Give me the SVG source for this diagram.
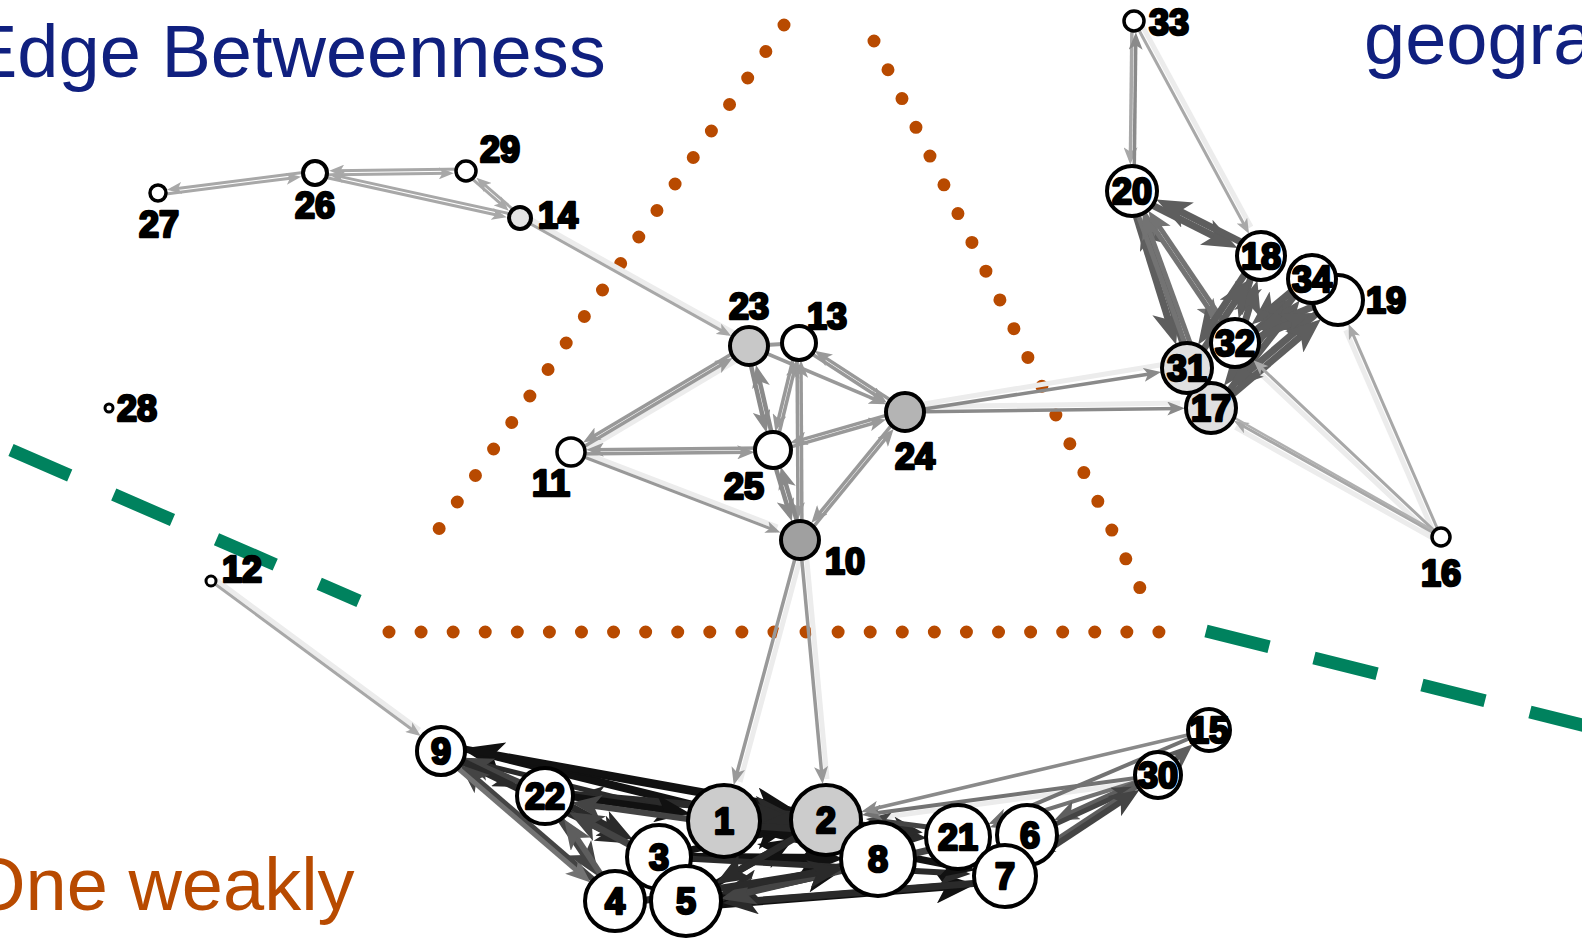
<svg xmlns="http://www.w3.org/2000/svg" width="1582" height="938" viewBox="0 0 1582 938">
<style>
.t{font-family:"Liberation Sans",Arial,sans-serif;font-size:74px}
.lb{font-family:"Liberation Sans",Arial,sans-serif;font-weight:bold;font-size:36px;fill:#000;stroke:#000;stroke-width:2.6;stroke-linejoin:round;text-anchor:middle}
.n{stroke:#000}
.h{stroke:#ececec;stroke-width:5;fill:none}
line{fill:none;stroke-linecap:butt}
.e0{stroke:#999999}
.e1{stroke:#a8a8a8;marker-end:url(#m1)}
.e2{stroke:#999999;marker-end:url(#m2)}
.e3{stroke:#8a8a8a;marker-end:url(#m3)}
.e4{stroke:#737373;marker-end:url(#m4)}
.e5{stroke:#5e5e5e;marker-end:url(#m5)}
.e6{stroke:#444444;marker-end:url(#m6)}
.e7{stroke:#2a2a2a;marker-end:url(#m7)}
.e8{stroke:#111111;marker-end:url(#m8)}
.dot{stroke:#b84a00;stroke-width:13;stroke-linecap:round;fill:none}
.dash{stroke:#00825e;stroke-width:13;fill:none}
</style>
<defs>
<marker id="m1" viewBox="0 0 10 8" refX="7" refY="4" markerWidth="5" markerHeight="4" orient="auto" markerUnits="strokeWidth"><path d="M0,0 L10,4 L0,8 L2.5,4 z" fill="#a8a8a8"/></marker>
<marker id="m2" viewBox="0 0 10 8" refX="7" refY="4" markerWidth="5" markerHeight="4" orient="auto" markerUnits="strokeWidth"><path d="M0,0 L10,4 L0,8 L2.5,4 z" fill="#999999"/></marker>
<marker id="m3" viewBox="0 0 10 8" refX="7" refY="4" markerWidth="5" markerHeight="4" orient="auto" markerUnits="strokeWidth"><path d="M0,0 L10,4 L0,8 L2.5,4 z" fill="#8a8a8a"/></marker>
<marker id="m4" viewBox="0 0 10 8" refX="7" refY="4" markerWidth="5" markerHeight="4" orient="auto" markerUnits="strokeWidth"><path d="M0,0 L10,4 L0,8 L2.5,4 z" fill="#737373"/></marker>
<marker id="m5" viewBox="0 0 10 8" refX="7" refY="4" markerWidth="5" markerHeight="4" orient="auto" markerUnits="strokeWidth"><path d="M0,0 L10,4 L0,8 L2.5,4 z" fill="#5e5e5e"/></marker>
<marker id="m6" viewBox="0 0 10 8" refX="7" refY="4" markerWidth="5" markerHeight="4" orient="auto" markerUnits="strokeWidth"><path d="M0,0 L10,4 L0,8 L2.5,4 z" fill="#444444"/></marker>
<marker id="m7" viewBox="0 0 10 8" refX="7" refY="4" markerWidth="5" markerHeight="4" orient="auto" markerUnits="strokeWidth"><path d="M0,0 L10,4 L0,8 L2.5,4 z" fill="#2a2a2a"/></marker>
<marker id="m8" viewBox="0 0 10 8" refX="7" refY="4" markerWidth="5" markerHeight="4" orient="auto" markerUnits="strokeWidth"><path d="M0,0 L10,4 L0,8 L2.5,4 z" fill="#111111"/></marker>
</defs>
<rect width="1582" height="938" fill="#fff"/>

<g id="titles">
<text class="t" x="-32" y="77" fill="#10207f">Edge Betweenness</text>
<text class="t" x="1364" y="64" fill="#10207f">geogra</text>
<text class="t" x="-32" y="910" fill="#b84a00">One weakly</text>
</g>

<g id="annotations">
<line class="dot" x1="784" y1="25" x2="421" y2="555" stroke-dasharray="0 32.12"/>
<line class="dot" x1="874" y1="41" x2="1140" y2="588" stroke-dasharray="0 31.99"/>
<line class="dot" x1="389" y1="632" x2="1159" y2="632" stroke-dasharray="0 32.08"/>
<line class="dash" x1="11" y1="450" x2="359" y2="601" stroke-dasharray="64 48"/>
<line class="dash" x1="1206" y1="631" x2="1600" y2="729.5" stroke-dasharray="65 46.3"/>
</g>

<g id="edges">
<line class="h" x1="521.9" y1="214.5" x2="751" y2="342.5"/>
<line class="h" x1="574" y1="457" x2="752" y2="351"/>
<line class="h" x1="572.4" y1="448.3" x2="777.6" y2="527.1"/>
<line class="h" x1="904.2" y1="407.1" x2="1160" y2="365"/>
<line class="h" x1="905" y1="407" x2="1180" y2="403"/>
<line class="h" x1="804.8" y1="541.3" x2="740" y2="782"/>
<line class="h" x1="805" y1="539.5" x2="827" y2="779"/>
<line class="h" x1="213.4" y1="577.8" x2="419.5" y2="730"/>
<line class="h" x1="1138.4" y1="18.6" x2="1251" y2="227"/>
<line class="h" x1="1436.4" y1="539" x2="1345.7" y2="330.2"/>
<line class="h" x1="1438.6" y1="541.4" x2="1235.4" y2="427.4"/>
<line class="h" x1="1437.6" y1="540.6" x2="1253.3" y2="367"/>
<line class="h" x1="1158.7" y1="780" x2="868.6" y2="819.3"/>

<line class="e1" stroke-width="3" x1="314.7" y1="171" x2="171.4" y2="189.3"/>
<line class="e1" stroke-width="3" x1="158.3" y1="195" x2="296.6" y2="177.4"/>
<line class="e1" stroke-width="3" x1="315" y1="175" x2="449.3" y2="173.2"/>
<line class="e1" stroke-width="3" x1="466" y1="169" x2="333.7" y2="170.8"/>
<line class="e1" stroke-width="3" x1="314.6" y1="175" x2="502.3" y2="216.2"/>
<line class="e1" stroke-width="3" x1="520.4" y1="216" x2="333.7" y2="175.1"/>
<line class="e1" stroke-width="3" x1="464.8" y1="172.4" x2="505.4" y2="207.8"/>
<line class="e1" stroke-width="3" x1="521.2" y1="216.6" x2="479.8" y2="180.6"/>
<line class="e1" stroke-width="3" x1="520" y1="218" x2="727.4" y2="333.9"/>

<line class="e2" stroke-width="3.5" x1="572" y1="453.7" x2="728.1" y2="360.8"/>
<line class="e2" stroke-width="3.5" x1="748" y1="344.3" x2="587.6" y2="439.8"/>
<line class="e2" stroke-width="3.5" x1="571" y1="454" x2="749.5" y2="452.2"/>
<line class="e2" stroke-width="3.5" x1="773" y1="448" x2="591.5" y2="449.8"/>
<line class="e2" stroke-width="3" x1="571" y1="452" x2="776.2" y2="530.8"/>
<line class="e3" stroke-width="4.5" x1="746.6" y1="346.6" x2="765" y2="426.2"/>
<line class="e3" stroke-width="4.5" x1="775.4" y1="449.4" x2="757.5" y2="371.7"/>
<line class="e2" stroke-width="3.5" x1="797.1" y1="342.5" x2="776.6" y2="426.7"/>
<line class="e2" stroke-width="3.5" x1="774.9" y1="450.5" x2="795.6" y2="365.4"/>
<line class="e2" stroke-width="3.5" x1="797" y1="343" x2="798" y2="514.5"/>
<line class="e2" stroke-width="3.5" x1="802" y1="540" x2="801" y2="365.5"/>
<line class="e3" stroke-width="4.5" x1="770.6" y1="450.7" x2="789.9" y2="514.9"/>
<line class="e3" stroke-width="4.5" x1="802.4" y1="539.3" x2="782.6" y2="473.2"/>
<line class="e2" stroke-width="3.5" x1="797.9" y1="344.7" x2="882.5" y2="399.8"/>
<line class="e2" stroke-width="3.5" x1="906.1" y1="410.3" x2="819" y2="353.6"/>
<line class="e2" stroke-width="3.5" x1="749" y1="346" x2="881.5" y2="402.1"/>
<line class="e2" stroke-width="3.5" x1="773.6" y1="451.9" x2="881" y2="421"/>
<line class="e2" stroke-width="3.5" x1="904.4" y1="410.1" x2="795" y2="441.6"/>
<line class="e2" stroke-width="3.5" x1="903.5" y1="410.7" x2="814.7" y2="519"/>
<line class="e2" stroke-width="3.5" x1="801.5" y1="541.3" x2="890.3" y2="433"/>
<line class="e0" stroke-width="4" x1="749" y1="346" x2="799" y2="343"/>
<line class="e3" stroke-width="3.5" x1="905" y1="412" x2="1155.9" y2="372.9"/>
<line class="e3" stroke-width="3.5" x1="905" y1="412" x2="1179.5" y2="408.4"/>
<line class="e2" stroke-width="3.5" x1="800" y1="540" x2="735.1" y2="780"/>
<line class="e2" stroke-width="3.5" x1="800" y1="540" x2="822.2" y2="778.7"/>
<line class="e1" stroke-width="3" x1="211" y1="581" x2="417.1" y2="733.3"/>

<line class="e1" stroke-width="3.5" x1="1132" y1="21" x2="1130.4" y2="159.5"/>
<line class="e3" stroke-width="3.5" x1="1134" y1="191" x2="1135.8" y2="37.5"/>
<line class="e1" stroke-width="3" x1="1134" y1="21" x2="1246.9" y2="229.8"/>
<line class="e5" stroke-width="7" x1="1130.4" y1="194.1" x2="1228.1" y2="243.3"/>
<line class="e5" stroke-width="7" x1="1262.6" y1="252.9" x2="1165.7" y2="204.1"/>
<line class="e5" stroke-width="7" x1="1128.7" y1="192" x2="1173" y2="334.6"/>
<line class="e5" stroke-width="7" x1="1190.3" y1="367" x2="1146" y2="224.4"/>
<line class="e4" stroke-width="5" x1="1129.9" y1="192.4" x2="1214.9" y2="317.9"/>
<line class="e4" stroke-width="5" x1="1237.1" y1="341.6" x2="1152.6" y2="216.9"/>
<line class="e4" stroke-width="5" x1="1129.7" y1="191.9" x2="1197.4" y2="377.9"/>
<line class="e4" stroke-width="5" x1="1213.4" y1="407.1" x2="1145.7" y2="221.1"/>
<line class="e5" stroke-width="7" x1="1257.6" y1="255" x2="1241.6" y2="308.5"/>
<line class="e5" stroke-width="7" x1="1238.4" y1="344" x2="1254.4" y2="290.5"/>
<line class="e5" stroke-width="7" x1="1258.1" y1="254.1" x2="1203.9" y2="336"/>
<line class="e5" stroke-width="7" x1="1189.9" y1="369.9" x2="1244.6" y2="287.1"/>
<line class="e5" stroke-width="7" x1="1309.8" y1="276.3" x2="1259.7" y2="317.9"/>
<line class="e5" stroke-width="7" x1="1237.2" y1="345.7" x2="1287.3" y2="304.1"/>
<line class="e5" stroke-width="7" x1="1309.2" y1="276.8" x2="1230.4" y2="377.4"/>
<line class="e5" stroke-width="7" x1="1213.8" y1="410.2" x2="1293.2" y2="308.8"/>
<line class="e5" stroke-width="7" x1="1336.7" y1="296.8" x2="1266" y2="326.3"/>
<line class="e5" stroke-width="7" x1="1236.3" y1="346.2" x2="1306.1" y2="317.1"/>
<line class="e5" stroke-width="7" x1="1335.7" y1="297.3" x2="1236.1" y2="382"/>
<line class="e5" stroke-width="7" x1="1213.3" y1="410.7" x2="1312.9" y2="326"/>
<line class="e1" stroke-width="3" x1="1441" y1="537" x2="1350.3" y2="328.2"/>
<line class="e1" stroke-width="3" x1="1441" y1="537" x2="1237.8" y2="423"/>
<line class="e1" stroke-width="3" x1="1441" y1="537" x2="1256.7" y2="363.4"/>
<line stroke="#b0b0b0" stroke-width="2.5" x1="1212.5" y1="405.4" x2="1438" y2="533"/>

<line class="e8" stroke-width="8" x1="725.9" y1="813.2" x2="475.4" y2="751.2"/>
<line class="e8" stroke-width="6" x1="826.3" y1="816.1" x2="474.7" y2="753"/>
<line class="e8" stroke-width="7" x1="442" y1="745" x2="780.4" y2="805.7"/>
<line class="e7" stroke-width="7" x1="545.3" y1="792" x2="779" y2="812"/>
<line class="e7" stroke-width="6" x1="826.3" y1="817" x2="582.7" y2="796.2"/>
<line class="e7" stroke-width="5" x1="440.3" y1="753.9" x2="680.6" y2="813.3"/>
<line class="e7" stroke-width="5" x1="440" y1="753.3" x2="511" y2="784"/>
<line class="e6" stroke-width="6" x1="546" y1="793.7" x2="471.4" y2="761.4"/>
<line class="e7" stroke-width="7" x1="441" y1="751" x2="621.7" y2="838.9"/>
<line class="e6" stroke-width="6" x1="616.3" y1="899.5" x2="466.5" y2="770.4"/>
<line class="e4" stroke-width="5" x1="439.7" y1="752.5" x2="584.9" y2="877.7"/>
<line class="e6" stroke-width="7" x1="545" y1="796" x2="593.1" y2="868.1"/>
<line class="e7" stroke-width="7" x1="546.4" y1="793.4" x2="623.8" y2="834.8"/>
<line class="e8" stroke-width="7" x1="545.4" y1="793" x2="679.3" y2="811.7"/>
<line class="e6" stroke-width="6" x1="723.6" y1="824" x2="580.3" y2="804"/>
<line class="e6" stroke-width="7" x1="657.6" y1="859.6" x2="578" y2="817"/>
<line class="e5" stroke-width="6" x1="617.5" y1="899.3" x2="569.1" y2="826.7"/>
<line class="e7" stroke-width="9" x1="724" y1="818" x2="780" y2="817.5"/>
<line class="e7" stroke-width="9" x1="826" y1="824" x2="771" y2="824.5"/>
<line class="e8" stroke-width="7" x1="659" y1="857" x2="779.6" y2="830.3"/>
<line class="e8" stroke-width="7" x1="686" y1="901" x2="784.9" y2="843.8"/>
<line class="e8" stroke-width="8" x1="724" y1="821" x2="832.8" y2="847.8"/>
<line class="e8" stroke-width="9" x1="659" y1="857" x2="830" y2="858.6"/>
<line class="e8" stroke-width="7" x1="686.9" y1="904.9" x2="830.5" y2="873.5"/>
<line class="e7" stroke-width="8" x1="878" y1="859" x2="730.9" y2="891.2"/>
<line class="e8" stroke-width="8" x1="686.5" y1="907" x2="963.6" y2="885.3"/>
<line class="e7" stroke-width="7" x1="1005.4" y1="881" x2="733.3" y2="902.3"/>
<line class="e7" stroke-width="6" x1="659" y1="857" x2="961.6" y2="873.6"/>
<line class="e8" stroke-width="7" x1="724" y1="821" x2="965.3" y2="868.2"/>
<line class="e7" stroke-width="7" x1="826" y1="820" x2="724.5" y2="878.7"/>
<line class="e6" stroke-width="7" x1="959.4" y1="842.8" x2="730.7" y2="896.6"/>
<line class="e7" stroke-width="7" x1="615.6" y1="905" x2="832.7" y2="870.3"/>
<line class="e7" stroke-width="7" x1="724" y1="824" x2="916.4" y2="837.2"/>
<line class="e7" stroke-width="6" x1="826" y1="820" x2="913.9" y2="831.3"/>
<line class="e6" stroke-width="5" x1="958.8" y1="831" x2="873.4" y2="820"/>
<line class="e4" stroke-width="4" x1="1158" y1="775" x2="867.9" y2="814.3"/>
<line class="e4" stroke-width="4" x1="1158" y1="775" x2="995.5" y2="825.4"/>
<line class="e5" stroke-width="5" x1="1157.2" y1="773.2" x2="1060.7" y2="817.4"/>
<line class="e6" stroke-width="5" x1="1027.8" y1="836.8" x2="1130.6" y2="789.7"/>
<line class="e5" stroke-width="5" x1="1156.9" y1="773.3" x2="1036.5" y2="852.8"/>
<line class="e6" stroke-width="6" x1="1006.1" y1="877.7" x2="1132" y2="794.6"/>
<line class="e5" stroke-width="5" x1="1158" y1="775" x2="1187.2" y2="749.2"/>
<line class="e4" stroke-width="4" x1="1209" y1="730" x2="994.1" y2="821.6"/>
<line class="e3" stroke-width="3.5" x1="1209" y1="730" x2="866.4" y2="810.5"/>
</g>

<g id="node-27"><circle class="n" cx="158" cy="193" r="8" fill="#fff" stroke-width="3.5"/><text class="lb" x="159" y="237">27</text></g>
<g id="node-26"><circle class="n" cx="315" cy="173" r="12" fill="#fff" stroke-width="4"/><text class="lb" x="315" y="218">26</text></g>
<g id="node-29"><circle class="n" cx="466" cy="171" r="10" fill="#fff" stroke-width="3.5"/><text class="lb" x="500" y="162">29</text></g>
<g id="node-14"><circle class="n" cx="520" cy="218" r="11" fill="#e4e4e4" stroke-width="4"/><text class="lb" x="558" y="228">14</text></g>
<g id="node-28"><circle class="n" cx="109" cy="408" r="4" fill="#fff" stroke-width="3"/><text class="lb" x="137" y="421">28</text></g>
<g id="node-12"><circle class="n" cx="211" cy="581" r="5" fill="#fff" stroke-width="3"/><text class="lb" x="242" y="582">12</text></g>
<g id="node-11"><circle class="n" cx="571" cy="452" r="14" fill="#fff" stroke-width="3.5"/><text class="lb" x="551" y="496">11</text></g>
<g id="node-23"><circle class="n" cx="749" cy="346" r="19" fill="#c8c8c8" stroke-width="4"/><text class="lb" x="749" y="319">23</text></g>
<g id="node-13"><circle class="n" cx="799" cy="343" r="17" fill="#fff" stroke-width="4"/><text class="lb" x="827" y="329">13</text></g>
<g id="node-25"><circle class="n" cx="773" cy="450" r="18" fill="#fff" stroke-width="4"/><text class="lb" x="744" y="499">25</text></g>
<g id="node-24"><circle class="n" cx="905" cy="412" r="19" fill="#b4b4b4" stroke-width="4"/><text class="lb" x="915" y="469">24</text></g>
<g id="node-10"><circle class="n" cx="800" cy="540" r="19" fill="#a0a0a0" stroke-width="4"/><text class="lb" x="845" y="574">10</text></g>
<g id="node-33"><circle class="n" cx="1134" cy="21" r="10" fill="#fff" stroke-width="3.5"/><text class="lb" x="1169" y="35">33</text></g>
<g id="node-20"><circle class="n" cx="1132" cy="191" r="25" fill="#fff" stroke-width="4"/><text class="lb" x="1132" y="204">20</text></g>
<g id="node-18"><circle class="n" cx="1261" cy="256" r="24" fill="#fff" stroke-width="4"/><text class="lb" x="1261" y="269">18</text></g>
<g id="node-19"><circle class="n" cx="1338" cy="300" r="25" fill="#fff" stroke-width="4"/><text class="lb" x="1386" y="313">19</text></g>
<g id="node-34"><circle class="n" cx="1312" cy="279" r="24" fill="#fff" stroke-width="4"/><text class="lb" x="1312" y="292">34</text></g>
<g id="node-17"><circle class="n" cx="1211" cy="408" r="25" fill="#e0e0e0" stroke-width="4"/><text class="lb" x="1211" y="421">17</text></g>
<g id="node-31"><circle class="n" cx="1187" cy="368" r="25" fill="#e0e0e0" stroke-width="4"/><text class="lb" x="1187" y="381">31</text></g>
<g id="node-32"><circle class="n" cx="1235" cy="343" r="24" fill="#fff" stroke-width="4"/><text class="lb" x="1235" y="356">32</text></g>
<g id="node-16"><circle class="n" cx="1441" cy="537" r="9" fill="#fff" stroke-width="3.5"/><text class="lb" x="1441" y="586">16</text></g>
<g id="node-9"><circle class="n" cx="441" cy="751" r="24" fill="#fff" stroke-width="4"/><text class="lb" x="441" y="764">9</text></g>
<g id="node-22"><circle class="n" cx="545" cy="796" r="28" fill="#fff" stroke-width="4"/><text class="lb" x="545" y="809">22</text></g>
<g id="node-1"><circle class="n" cx="724" cy="821" r="36" fill="#cccccc" stroke-width="4"/><text class="lb" x="724" y="834">1</text></g>
<g id="node-2"><circle class="n" cx="826" cy="820" r="35" fill="#cccccc" stroke-width="4"/><text class="lb" x="826" y="833">2</text></g>
<g id="node-3"><circle class="n" cx="659" cy="857" r="32" fill="#fff" stroke-width="4"/><text class="lb" x="659" y="870">3</text></g>
<g id="node-4"><circle class="n" cx="615" cy="901" r="30" fill="#fff" stroke-width="4"/><text class="lb" x="615" y="914">4</text></g>
<g id="node-5"><circle class="n" cx="686" cy="901" r="35" fill="#fff" stroke-width="4"/><text class="lb" x="686" y="914">5</text></g>
<g id="node-8"><circle class="n" cx="878" cy="859" r="37" fill="#fff" stroke-width="4"/><text class="lb" x="878" y="872">8</text></g>
<g id="node-21"><circle class="n" cx="958" cy="837" r="32" fill="#fff" stroke-width="4"/><text class="lb" x="958" y="850">21</text></g>
<g id="node-6"><circle class="n" cx="1027" cy="835" r="30" fill="#fff" stroke-width="4"/><text class="lb" x="1030" y="848">6</text></g>
<g id="node-7"><circle class="n" cx="1005" cy="876" r="31" fill="#fff" stroke-width="4"/><text class="lb" x="1005" y="889">7</text></g>
<g id="node-30"><circle class="n" cx="1158" cy="775" r="23" fill="#fff" stroke-width="4"/><text class="lb" x="1158" y="788">30</text></g>
<g id="node-15"><circle class="n" cx="1209" cy="730" r="21" fill="#fff" stroke-width="4"/><text class="lb" x="1209" y="743">15</text></g>
</svg>
